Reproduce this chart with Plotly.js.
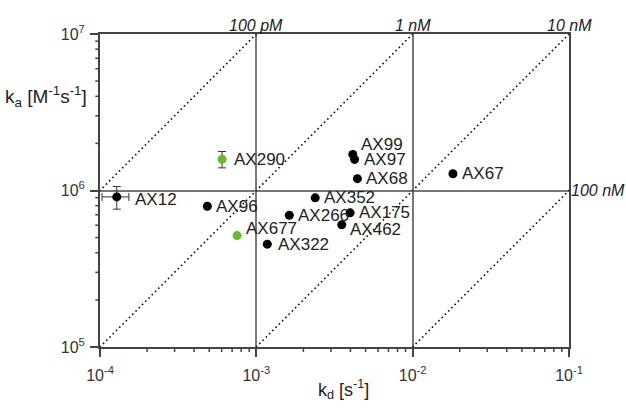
<!DOCTYPE html>
<html>
<head>
<meta charset="utf-8">
<script src="https://cdn.plot.ly/plotly-3.0.1.min.js"></script>
<style>html,body{margin:0;padding:0;background:#fff;}#chart{width:626px;height:408px;}</style>
</head>
<body>
<div id="chart"></div>
<script>
// Black compounds
const blackNames = ['AX12','AX96','AX322','AX266','AX352','AX175','AX462','AX99','AX97','AX68','AX67'];
const blackKd    = [1.28e-4, 4.86e-4, 1.175e-3, 1.625e-3, 2.38e-3, 3.98e-3, 3.52e-3, 4.14e-3, 4.25e-3, 4.43e-3, 1.81e-2];
const blackKa    = [9.1e5, 7.93e5, 4.54e5, 6.95e5, 8.98e5, 7.2e5, 6.04e5, 1.70e6, 1.58e6, 1.19e6, 1.28e6];
const blackKdErr = [0.25e-4, 0, 0, 0, 0, 0, 0, 0, 0, 0, 0];
const blackKaErr = [1.5e5, 0, 0, 0, 0, 0, 0, 0, 0, 0, 0];
// Green compounds
const greenNames = ['AX290','AX677'];
const greenKd    = [6.04e-4, 7.53e-4];
const greenKa    = [1.585e6, 5.15e5];
const greenKaErr = [1.9e5, 0];
// Iso-affinity lines (KD = kd / ka)
const kdLabels = ['100 pM','1 nM','10 nM','100 nM'];
const kdValues = [1e-10, 1e-9, 1e-8, 1e-7];
const kaRange  = [1e4, 1e8];
// Axis ranges (log10) and ticks
const xRange = [-4, -1];
const yRange = [5, 7];
const xTickVals = [1e-4, 1e-3, 1e-2, 1e-1];
const xTickText = ['10<sup>-4</sup>','10<sup>-3</sup>','10<sup>-2</sup>','10<sup>-1</sup>'];
const yTickVals = [1e5, 1e6, 1e7];
const yTickText = ['10<sup>5</sup>','10<sup>6</sup>','10<sup>7</sup>'];

// label offsets (pixels) — style only
const labelShift = {AX12:[16,-3], AX290:[10,0], AX322:[9,0], AX99:[6,10], AX677:[7,7], AX462:[6,-5]};

const FONT = 'Liberation Sans, Arial, sans-serif';
const textColor = '#222';

function minorVals(lo, hi){
  const v = [];
  for (let e = lo; e < hi; e++) for (let m = 2; m <= 9; m++) v.push(m*Math.pow(10, e));
  return v;
}

const traces = [];
kdValues.forEach(function(K){
  traces.push({
    x: kaRange.map(function(a){return K*a;}),
    y: kaRange,
    mode:'lines', type:'scatter', hoverinfo:'skip', showlegend:false,
    line:{color:'#111', width:1.6, dash:'1.6px,3px'}
  });
});
traces.push({
  x: blackKd, y: blackKa, type:'scatter', mode:'markers',
  marker:{color:'#000', size:9},
  error_x:{type:'data', array: blackKdErr, visible:true, color:'#333', thickness:1, width:4},
  error_y:{type:'data', array: blackKaErr, visible:true, color:'#333', thickness:1, width:4},
  showlegend:false, cliponaxis:false
});
traces.push({
  x: greenKd, y: greenKa, type:'scatter', mode:'markers',
  marker:{color:'#66b933', size:9},
  error_y:{type:'data', array: greenKaErr, visible:true, color:'#333', thickness:1, width:4},
  showlegend:false, cliponaxis:false
});

const annotations = [];
function addLabels(names, kd, ka){
  names.forEach(function(n, i){
    const s = labelShift[n] || [7, 0];
    annotations.push({x: Math.log10(kd[i]), y: Math.log10(ka[i]), xref:'x', yref:'y', text:n,
      showarrow:false, xanchor:'left', yanchor:'middle', xshift:s[0], yshift:s[1],
      font:{family:FONT, size:17, color:textColor}});
  });
}
addLabels(blackNames, blackKd, blackKa);
addLabels(greenNames, greenKd, greenKa);

kdValues.forEach(function(K, i){
  const kdTop = K*Math.pow(10, yRange[1]);
  if (kdTop <= Math.pow(10, xRange[1]) + 1e-12) {
    annotations.push({x: Math.log10(kdTop), y: yRange[1], xref:'x', yref:'y', text:'<i>'+kdLabels[i]+'</i>',
      showarrow:false, xanchor:'center', yanchor:'bottom', yshift:-2,
      font:{family:FONT, size:16, color:textColor}});
  } else {
    annotations.push({x: xRange[1], y: Math.log10(Math.pow(10, xRange[1])/K), xref:'x', yref:'y', text:'<i>'+kdLabels[i]+'</i>',
      showarrow:false, xanchor:'left', yanchor:'middle', xshift:0,
      font:{family:FONT, size:16, color:textColor}});
  }
});
annotations.push({x:-0.024, y:0.80, xref:'paper', yref:'paper', xanchor:'right', yanchor:'middle',
  text:'k<sub>a</sub> [M<sup>-1</sup>s<sup>-1</sup>]', showarrow:false,
  font:{family:FONT, size:19, color:textColor}});
annotations.push({x:0.52, y:-0.135, xref:'paper', yref:'paper', xanchor:'center', yanchor:'middle',
  text:'k<sub>d</sub> [s<sup>-1</sup>]', showarrow:false,
  font:{family:FONT, size:18, color:textColor}});

// minor tick marks (2..9 within each decade), placed along the axes in paper units
const shapes = [];
minorVals(xRange[0], xRange[1]).forEach(function(v){
  const p = (Math.log10(v) - xRange[0]) / (xRange[1] - xRange[0]);
  shapes.push({type:'line', xref:'paper', yref:'paper', layer:'above',
    x0:p, x1:p, y0:0, y1:-0.016, line:{color:'#444', width:1.5}});
});
minorVals(yRange[0], yRange[1]).forEach(function(v){
  const p = (Math.log10(v) - yRange[0]) / (yRange[1] - yRange[0]);
  shapes.push({type:'line', xref:'paper', yref:'paper', layer:'above',
    y0:p, y1:p, x0:0, x1:-0.01, line:{color:'#444', width:1.5}});
});

const axisCommon = {
  type:'log', showline:true, mirror:true, linecolor:'#444', linewidth:2,
  showgrid:true, gridcolor:'#777', gridwidth:2, zeroline:false,
  ticks:'outside', ticklen:8, tickwidth:2, tickcolor:'#444',
  tickmode:'array',
  tickfont:{family:FONT, size:16, color:'#333'},
  automargin:false
};

const layout = {
  width:626, height:408,
  margin:{l:100, r:57, t:34, b:61},
  paper_bgcolor:'#fff', plot_bgcolor:'#fff',
  font:{family:FONT, color:textColor},
  xaxis: Object.assign({}, axisCommon, {range:xRange, tickvals:xTickVals, ticktext:xTickText, ticklabelstandoff:5}),
  yaxis: Object.assign({}, axisCommon, {range:yRange, tickvals:yTickVals, ticktext:yTickText, ticklabelstandoff:2}),
  annotations: annotations,
  shapes: shapes,
  showlegend:false
};

Plotly.newPlot('chart', traces, layout, {displayModeBar:false, staticPlot:true});
</script>
</body>
</html>
